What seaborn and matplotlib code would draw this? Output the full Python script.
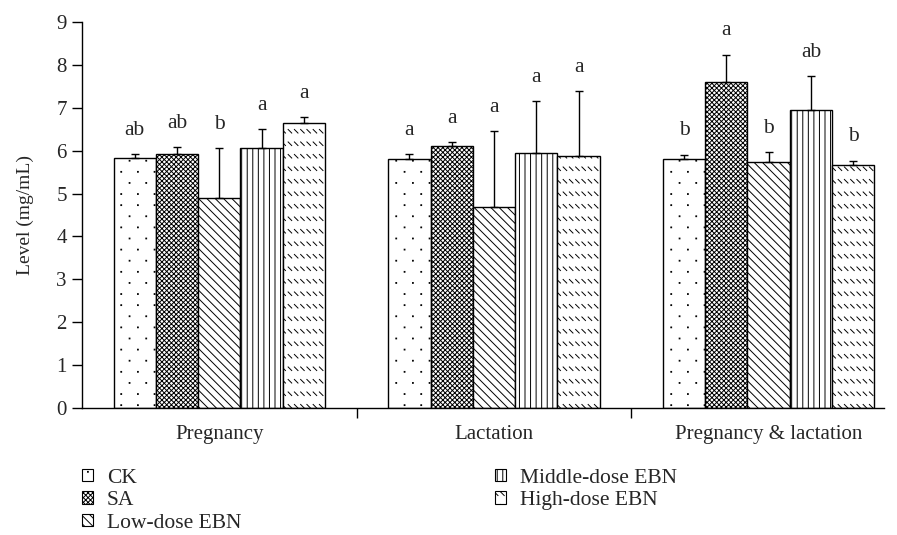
import numpy as np
import pandas as pd
import matplotlib
matplotlib.use("Agg")
import matplotlib.pyplot as plt
import matplotlib.hatch as mhatch
from matplotlib.path import Path
from matplotlib.patches import Patch
from matplotlib.ticker import FixedLocator
import seaborn as sns

# ---------------- data ----------------
periods = ["Pregnancy", "Lactation", "Pregnancy & lactation"]
treatments = ["CK", "SA", "Low-dose EBN", "Middle-dose EBN", "High-dose EBN"]

ck_mean = [5.82, 5.81, 5.81]
sa_mean = [5.93, 6.11, 7.59]
low_mean = [4.90, 4.68, 5.73]
mid_mean = [6.07, 5.95, 6.94]
high_mean = [6.64, 5.87, 5.67]

ck_err = [0.10, 0.11, 0.10]
sa_err = [0.15, 0.10, 0.65]
low_err = [1.17, 1.78, 0.23]
mid_err = [0.43, 1.21, 0.79]
high_err = [0.15, 1.52, 0.10]

ck_sig = ["ab", "a", "b"]
sa_sig = ["ab", "a", "a"]
low_sig = ["b", "a", "b"]
mid_sig = ["a", "a", "ab"]
high_sig = ["a", "a", "b"]

y_ticks = [0, 1, 2, 3, 4, 5, 6, 7, 8, 9]

means = [ck_mean, sa_mean, low_mean, mid_mean, high_mean]
errs = [ck_err, sa_err, low_err, mid_err, high_err]
sigs = [ck_sig, sa_sig, low_sig, mid_sig, high_sig]


# ------------- custom hatches -------------
class DashRowHatch(mhatch.HatchPatternBase):
    """Rows of short backslash dashes (triggered by '*')."""
    def __init__(self, hatch, density):
        n = hatch.count("*")
        self.rows = 8 * n
        self.cols = 16 * n
        self.num_vertices = self.rows * self.cols * 2

    def set_vertices_and_codes(self, vertices, codes):
        ys = (np.arange(self.rows) + 0.5) / self.rows
        xs = (np.arange(self.cols) + 0.1) / self.cols
        X, Y = np.meshgrid(xs, ys)
        X = X.ravel()
        Y = Y.ravel()
        dx, dy = 0.036, 0.036
        vertices[0::2, 0] = X
        vertices[0::2, 1] = Y + dy / 2
        vertices[1::2, 0] = X + dx
        vertices[1::2, 1] = Y - dy / 2
        codes[0::2] = Path.MOVETO
        codes[1::2] = Path.LINETO


class TinyDotHatch(mhatch.HatchPatternBase):
    """Sparse staggered small square dots (triggered by 'o')."""
    def __init__(self, hatch, density):
        n = hatch.count("o")
        self.rows = 9 * n
        self.cols = 6 * n
        self.num_vertices = self.rows * self.cols * 5

    def set_vertices_and_codes(self, vertices, codes):
        pts = []
        for r in range(self.rows):
            off = 0.5 if r % 2 else 0.0
            for c in range(self.cols):
                pts.append(((c + off + 0.25) / self.cols, (r + 0.5) / self.rows))
        pts = np.array(pts)
        d = 0.008
        corners = np.array([[0, 0], [d, 0], [d, d], [0, d], [0, 0]])
        for k in range(5):
            vertices[k::5, 0] = pts[:, 0] + corners[k, 0]
            vertices[k::5, 1] = pts[:, 1] + corners[k, 1]
        codes[0::5] = Path.MOVETO
        codes[1::5] = Path.LINETO
        codes[2::5] = Path.LINETO
        codes[3::5] = Path.LINETO
        codes[4::5] = Path.CLOSEPOLY


mhatch._hatch_types[mhatch._hatch_types.index(mhatch.Stars)] = DashRowHatch
mhatch._hatch_types[mhatch._hatch_types.index(mhatch.SmallCircles)] = TinyDotHatch

hatches = ["o", "xxxxxxx", "\\\\\\\\", "|||", "*"]

# ---------------- style ----------------
sns.set_style("ticks")
plt.rcParams["font.family"] = ["Liberation Serif", "DejaVu Serif"]
plt.rcParams["hatch.linewidth"] = 0.7
plt.rcParams["hatch.color"] = "black"

df = pd.DataFrame({
    "Period": periods * len(treatments),
    "Treatment": np.repeat(treatments, len(periods)),
    "Level": np.concatenate(means),
})

fig = plt.figure(figsize=(8.97, 5.35), dpi=100)
ax = fig.add_axes([0.0914, 0.2374, 0.8941, 0.7215])

sns.barplot(data=df, x="Period", y="Level", hue="Treatment",
            order=periods, hue_order=treatments,
            palette=["white"] * len(treatments), saturation=1,
            edgecolor="black", linewidth=1.0, width=0.77, gap=0,
            errorbar=None, legend=False, ax=ax)

for cont, hatch, err, sig in zip(ax.containers, hatches, errs, sigs):
    xs, ys = [], []
    for bar, e, s in zip(cont, err, sig):
        bar.set_hatch(hatch)
        x = bar.get_x() + bar.get_width() / 2
        y = bar.get_height()
        xs.append(x)
        ys.append(y)
        ax.text(x, y + e + 0.55, s, ha="center", va="center", fontsize=15.5)
    ax.errorbar(xs, ys, yerr=[np.zeros(len(err)), err], fmt="none",
                ecolor="black", elinewidth=1.0, capsize=2.6, capthick=1.0,
                zorder=1)

ax.set_xlim(-0.5, 2.42)
ax.set_ylim(0, 9)
ax.set_yticks(y_ticks)
ax.set_xlabel("")
ax.set_ylabel("Level (mg/mL)", fontsize=14, labelpad=16)
ax.tick_params(axis="y", which="major", length=7, width=1.0, direction="out",
               labelsize=15, pad=4, color="black")
ax.tick_params(axis="x", which="major", length=0, labelsize=15, pad=12)
ax.xaxis.set_minor_locator(FixedLocator([0.5, 1.5]))
ax.tick_params(axis="x", which="minor", length=7, width=1.0,
               direction="out", color="black")
for side in ["top", "right"]:
    ax.spines[side].set_visible(False)
for side in ["left", "bottom"]:
    ax.spines[side].set_linewidth(1.0)
    ax.spines[side].set_color("black")

handles = [Patch(facecolor="white", edgecolor="black", linewidth=0.8, hatch=h)
           for h in hatches]

leg_kw = dict(frameon=False, loc="upper left", fontsize=15.5, handlelength=0.5,
              handleheight=0.5, handletextpad=0.65, labelspacing=0.16,
              borderpad=0, borderaxespad=0)
leg1 = fig.legend(handles[:3], treatments[:3],
                  bbox_to_anchor=(0.0914, 0.124), **leg_kw)
leg2 = fig.legend(handles[3:], treatments[3:],
                  bbox_to_anchor=(0.552, 0.124), **leg_kw)

fig.savefig("out.png", dpi=100)
